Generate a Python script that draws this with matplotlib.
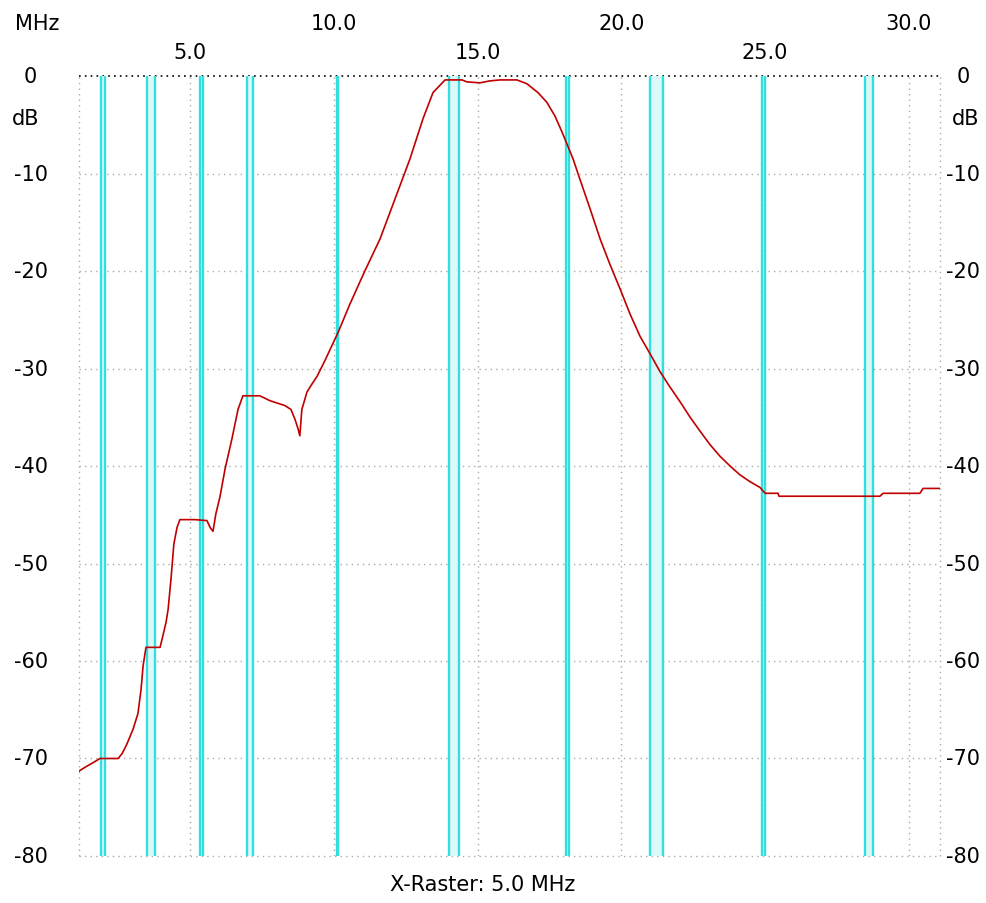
import numpy as np
import matplotlib
matplotlib.use("Agg")
import matplotlib.pyplot as plt
import matplotlib.transforms as mtransforms

# frequency axis (MHz) and level axis (dB)
f_start, f_stop = 1.14, 31.08
db_top, db_bottom = 0, -80

freq = [1.14, 1.35, 1.59, 1.87, 2.22, 2.50, 2.64, 2.81, 3.02, 3.19, 3.30, 3.37,
        3.47, 3.96, 4.06, 4.17, 4.24, 4.34, 4.44, 4.55, 4.65, 5.17, 5.59, 5.70,
        5.80, 5.90, 6.04, 6.22, 6.46, 6.67, 6.84, 7.43, 7.78, 8.30, 8.51, 8.65,
        8.76, 8.82, 8.89, 9.07, 9.24, 9.42, 9.69, 10.15, 10.56, 11.08, 11.61,
        12.13, 12.65, 13.10, 13.45, 13.87, 14.46, 14.63, 15.08, 15.43, 15.78,
        16.37, 16.72, 17.10, 17.41, 17.69, 17.93, 18.14, 18.32, 18.56, 18.91,
        19.26, 19.60, 19.95, 20.30, 20.65, 21.00, 21.34, 21.69, 22.04, 22.39,
        22.73, 23.08, 23.43, 23.78, 24.12, 24.47, 24.82, 25.00, 25.45, 25.48,
        28.99, 29.10, 30.38, 30.49, 31.08]
level = [-71.3, -70.9, -70.5, -70.0, -70.0, -70.0, -69.5, -68.5, -67.0, -65.4,
         -62.9, -60.5, -58.6, -58.6, -57.4, -56.0, -54.7, -51.6, -48.0, -46.3,
         -45.5, -45.5, -45.6, -46.3, -46.7, -44.9, -43.2, -40.3, -37.2, -34.2,
         -32.8, -32.8, -33.3, -33.8, -34.2, -35.2, -36.2, -36.9, -34.2, -32.4,
         -31.6, -30.8, -29.2, -26.3, -23.4, -20.0, -16.7, -12.6, -8.5, -4.4,
         -1.7, -0.4, -0.4, -0.6, -0.7, -0.5, -0.4, -0.4, -0.8, -1.7, -2.7, -4.1,
         -5.7, -7.2, -8.5, -10.6, -13.6, -16.7, -19.3, -21.8, -24.4, -26.7,
         -28.5, -30.3, -31.9, -33.4, -35.0, -36.4, -37.8, -39.0, -40.0, -40.9,
         -41.6, -42.2, -42.8, -42.8, -43.1, -43.1, -42.8, -42.8, -42.3, -42.3]

# ham band markers (start, stop) in MHz
band_lo = [1.90, 3.50, 5.35, 7.00, 10.10, 14.00, 18.07, 21.00, 24.89, 28.47]
band_hi = [2.03, 3.80, 5.45, 7.20, 10.15, 14.35, 18.17, 21.45, 24.99, 28.75]

x_ticks = [5, 10, 15, 20, 25, 30]
y_ticks = [0, -10, -20, -30, -40, -50, -60, -70, -80]

fig = plt.figure(figsize=(9.87, 9.04), dpi=100)
ax = fig.add_axes([0.080, 0.052, 0.8724, 0.8628])
ax.set_xlim(f_start, f_stop)
ax.set_ylim(db_bottom, db_top)

grid_kw = dict(color="#aaaaaa", lw=1.0, ls=(0, (1, 3)), zorder=1)
for x in x_ticks:
    ax.axvline(x, **grid_kw)
for y in y_ticks[1:-1]:
    ax.axhline(y, **grid_kw)

# frame: gray dotted, black dotted at 0 dB
for s in ax.spines.values():
    s.set_visible(False)
ax.axvline(f_start, clip_on=False, **grid_kw)
ax.axvline(f_stop, clip_on=False, **grid_kw)
ax.axhline(db_bottom, clip_on=False, **grid_kw)
ax.axhline(db_top, color="black", lw=1.2, ls=(0, (1, 2.5)), clip_on=False, zorder=2)

for lo, hi in zip(band_lo, band_hi):
    ax.axvspan(lo, hi, color="#dcf8f8", lw=0, zorder=2)
    ax.axvline(lo, color="#33dede", lw=1.7, zorder=3)
    ax.axvline(hi, color="#33dede", lw=1.7, zorder=3)

ax.plot(freq, level, color="#c00000", lw=1.2, zorder=4)

ax.set_xticks([])
ax.set_yticks([])

fs = 15
# y labels on both sides
ty = mtransforms.blended_transform_factory(fig.transFigure, ax.transData)
for y in y_ticks:
    ax.text(0.031, y, str(y), transform=ty, ha="center", va="center", fontsize=fs)
    ax.text(0.976, y, str(y), transform=ty, ha="center", va="center", fontsize=fs)
ax.text(0.026, -4.3, "dB", transform=ty, ha="center", va="center", fontsize=fs)
ax.text(0.978, -4.3, "dB", transform=ty, ha="center", va="center", fontsize=fs)

# x labels on top in two rows
tx = mtransforms.blended_transform_factory(ax.transData, fig.transFigure)
for i, x in enumerate(x_ticks):
    row_y = 0.941 if i % 2 == 0 else 0.974
    ax.text(x, row_y, f"{x:.1f}", transform=tx, ha="center", va="center", fontsize=fs)
fig.text(0.038, 0.974, "MHz", ha="center", va="center", fontsize=fs)

fig.text(0.489, 0.021, "X-Raster: 5.0 MHz", ha="center", va="center", fontsize=fs)

fig.savefig("out.png", dpi=100)
